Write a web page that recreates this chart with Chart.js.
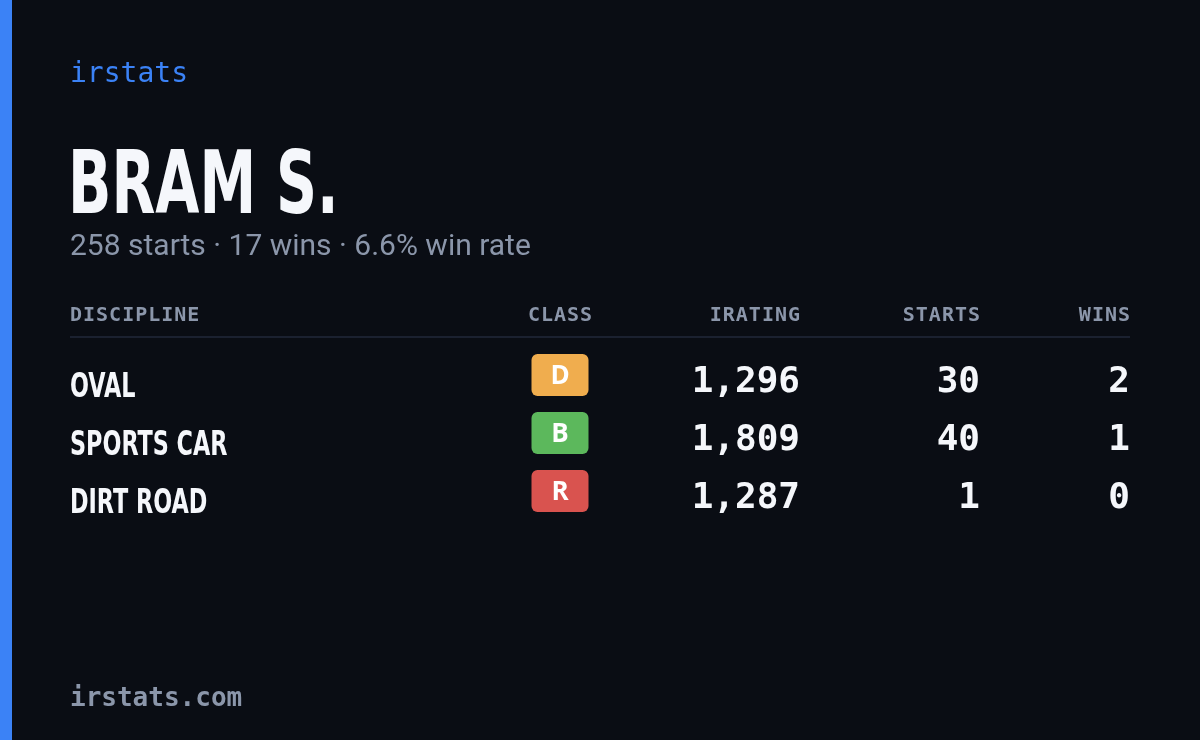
<!DOCTYPE html>
<html><head><meta charset="utf-8">
<script src="https://cdn.jsdelivr.net/npm/chart.js@4/dist/chart.umd.min.js"></script>
<style>html,body{margin:0;padding:0;background:#0a0d14;}#c{display:block}</style>
</head><body>
<canvas id="c" width="1200" height="740"></canvas>
<script>
const brand = "irstats";
const playerName = "BRAM S.";
const totalStarts = 258;
const totalWins = 17;
const winRate = "6.6%";
const headers = ["DISCIPLINE","CLASS","IRATING","STARTS","WINS"];
const disciplines = ["OVAL","SPORTS CAR","DIRT ROAD"];
const classes = ["D","B","R"];
const iratings = [1296, 1809, 1287];
const starts = [30, 40, 1];
const wins = [2, 1, 0];
const footer = "irstats.com";

const classColors = {D:"#f0ad4e", B:"#5cb85c", R:"#d9534f"};
const colX = [70, 560, 800, 980, 1130];
const fmt = n => n.toLocaleString("en-US");

function spaced(ctx, text, x, y, sp, align){
  let w = 0; for (const ch of text) w += ctx.measureText(ch).width + sp; w -= sp;
  let cx = align === "right" ? x - w : align === "center" ? x - w/2 : x;
  ctx.textAlign = "left";
  for (const ch of text){ ctx.fillText(ch, cx, y); cx += ctx.measureText(ch).width + sp; }
}
function condensed(ctx, text, x, y, font, targetScale){
  ctx.save(); ctx.font = font; ctx.textAlign="left";
  ctx.translate(x, y); ctx.scale(targetScale, 1); ctx.fillText(text, 0, 0); ctx.restore();
}

const cardPlugin = {
  id: "card",
  beforeDraw(chart){
    const ctx = chart.ctx, xs = chart.scales.x, ys = chart.scales.y;
    ctx.save();
    ctx.fillStyle = "#0a0d14"; ctx.fillRect(0,0,chart.width,chart.height);
    ctx.fillStyle = "#3b82f6"; ctx.fillRect(0,0,12,chart.height);
    ctx.textBaseline = "alphabetic";
    ctx.fillStyle = "#3b82f6"; ctx.font = "28px 'DejaVu Sans Mono'";
    ctx.fillText(brand, 70, 82);
    ctx.fillStyle = "#f5f7fb";
    condensed(ctx, playerName, 68, 213, "bold 88px 'DejaVu Sans Condensed'", 0.72);
    ctx.fillStyle = "#8b96aa"; ctx.font = "30px Roboto";
    ctx.fillText(`${totalStarts} starts · ${totalWins} wins · ${winRate} win rate`, 70, 255);
    // header
    ctx.font = "bold 20px 'DejaVu Sans Mono'"; ctx.fillStyle = "#8b96aa";
    headers.forEach((h,i)=>{
      const x = xs.getPixelForValue(colX[i]);
      spaced(ctx, h, x, 321, 1.0, i===0?"left":i===1?"center":"right");
    });
    ctx.fillStyle = "#1b2130"; ctx.fillRect(70, 336, 1060, 2);
    disciplines.forEach((d,i)=>{
      const yc = ys.getPixelForValue(i);
      ctx.fillStyle = "#f5f7fb";
      condensed(ctx, d, 70, yc+17, "bold 34px 'DejaVu Sans Condensed'", 0.73);
      const c = classes[i];
      ctx.fillStyle = classColors[c];
      ctx.beginPath(); ctx.roundRect(xs.getPixelForValue(colX[1])-28.5, yc-26, 57, 42, 6); ctx.fill();
      ctx.fillStyle = "#ffffff"; ctx.font = "bold 26px 'Open Sans'"; ctx.textAlign="center";
      ctx.fillText(c, xs.getPixelForValue(colX[1]), yc+4);
      ctx.font = "bold 36px 'DejaVu Sans Mono'"; ctx.textAlign="right"; ctx.fillStyle="#f5f7fb";
      ctx.fillText(fmt(iratings[i]), xs.getPixelForValue(colX[2]), yc+12);
      ctx.fillText(String(starts[i]), xs.getPixelForValue(colX[3]), yc+12);
      ctx.fillText(String(wins[i]), xs.getPixelForValue(colX[4]), yc+12);
    });
    ctx.textAlign="left"; ctx.fillStyle="#8b96aa"; ctx.font="bold 26px 'DejaVu Sans Mono'";
    ctx.fillText(footer, 70, 706);
    ctx.restore();
  }
};

new Chart(document.getElementById("c"), {
  type: "scatter",
  data: { datasets: [{ data: disciplines.map((d,i)=>({x: colX[2], y: i, v: iratings[i]})), pointRadius: 0 }] },
  options: {
    responsive: false, animation: false, events: [],
    layout: { padding: 0 },
    plugins: { legend: {display:false}, tooltip: {enabled:false} },
    scales: {
      x: { type: "linear", min: 0, max: 1200, display: false },
      y: { type: "linear", min: -6.552, max: 6.207, reverse: true, display: false }
    }
  },
  plugins: [cardPlugin]
});
</script>
</body></html>
